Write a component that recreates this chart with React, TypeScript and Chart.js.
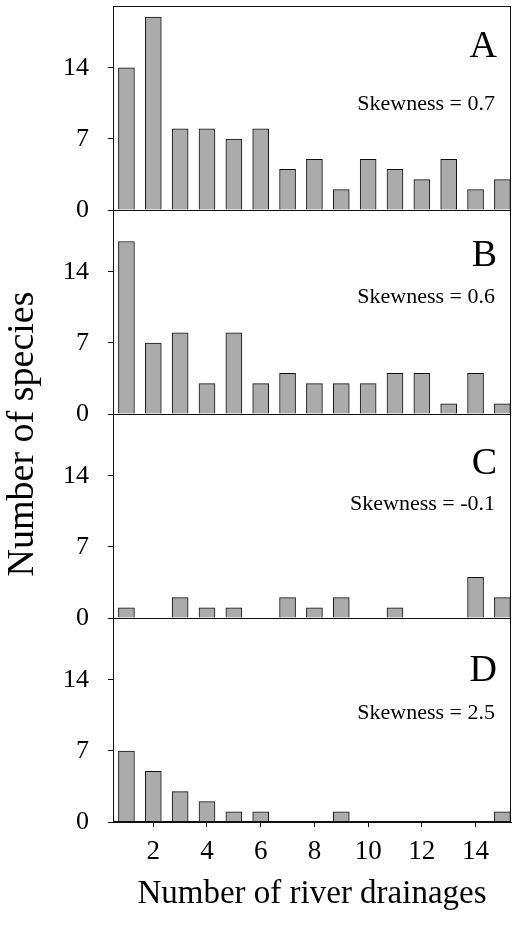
import React, { useEffect, useRef } from 'react';
import { Chart, registerables } from 'chart.js';

Chart.register(...registerables);

const drainages = [1, 2, 3, 4, 5, 6, 7, 8, 9, 10, 11, 12, 13, 14, 15];
const speciesA = [14, 19, 8, 8, 7, 8, 4, 5, 2, 5, 4, 3, 5, 2, 3];
const speciesB = [17, 7, 8, 3, 8, 3, 4, 3, 3, 3, 4, 4, 1, 4, 1];
const speciesC = [1, 0, 2, 1, 1, 0, 2, 1, 2, 0, 1, 0, 0, 4, 2];
const speciesD = [7, 5, 3, 2, 1, 1, 0, 0, 1, 0, 0, 0, 0, 0, 1];
const panelLetters = ['A', 'B', 'C', 'D'];
const skewnessValues = ['0.7', '0.6', '-0.1', '2.5'];
const yTickValues = [0, 7, 14];
const xTickValues = [2, 4, 6, 8, 10, 12, 14];
const yTitle = 'Number of species';
const xTitle = 'Number of river drainages';

// layout: baseline offsets (px) of the in-panel labels below each panel's top
const letterBaselineOffsets = [51, 56, 60, 63];
const skewBaselineOffsets = [104, 93, 96, 101];

const FONT = "'Liberation Serif', 'Times New Roman', serif";
const INK = '#111111';
const BAR_FILL = '#ababab';

const panelIds = ['yA', 'yB', 'yC', 'yD'];
const panelSeries = [speciesA, speciesB, speciesC, speciesD];

const panelPlugin = {
  id: 'panelFrames',
  afterDatasetsDraw(chart: any) {
    const { ctx, chartArea } = chart;
    ctx.save();
    ctx.strokeStyle = INK;
    ctx.lineWidth = 1;
    ctx.strokeRect(
      Math.round(chartArea.left) + 0.5,
      Math.round(chartArea.top) + 0.5,
      Math.round(chartArea.width) - 1,
      Math.round(chartArea.height) - 1
    );
    panelIds.forEach((id, i) => {
      const s = chart.scales[id];
      const y0 = Math.round(s.getPixelForValue(0)) + 0.5;
      ctx.beginPath();
      ctx.moveTo(chartArea.left, y0);
      ctx.lineTo(chartArea.right, y0);
      ctx.stroke();
      ctx.fillStyle = '#000';
      ctx.textAlign = 'right';
      ctx.textBaseline = 'alphabetic';
      ctx.font = `38px ${FONT}`;
      ctx.fillText(panelLetters[i], chartArea.right - 14, s.top + letterBaselineOffsets[i]);
      ctx.font = `22px ${FONT}`;
      ctx.fillText(`Skewness = ${skewnessValues[i]}`, chartArea.right - 16, s.top + skewBaselineOffsets[i]);
    });
    // shared y-axis title
    ctx.save();
    ctx.translate(23, 434);
    ctx.rotate(-Math.PI / 2);
    ctx.textAlign = 'center';
    ctx.textBaseline = 'middle';
    ctx.fillStyle = '#000';
    ctx.font = `38px ${FONT}`;
    ctx.fillText(yTitle, 0, 0);
    ctx.restore();
    ctx.restore();
  },
};

export default function App() {
  const canvasRef = useRef<HTMLCanvasElement | null>(null);

  useEffect(() => {
    if (!canvasRef.current) return;

    const datasets = panelSeries.map((series, i) => ({
      type: 'bar' as const,
      label: panelLetters[i],
      data: drainages.map((x, j) => ({ x, y: series[j] })),
      yAxisID: panelIds[i],
      xAxisID: 'x',
      backgroundColor: BAR_FILL,
      borderColor: INK,
      borderWidth: 1,
      borderSkipped: 'start' as const,
      barThickness: 16,
      grouped: false,
    }));

    // stacked left axes are laid out with the last-defined on top
    const yScales: any = {};
    [...panelIds].reverse().forEach((id) => {
      yScales[id] = {
        type: 'linear',
        position: 'left',
        stack: 'panels',
        stackWeight: 1,
        min: 0,
        max: 20.1,
        afterBuildTicks: (s: any) => {
          s.ticks = yTickValues.map((v) => ({ value: v }));
        },
        afterFit: (s: any) => {
          s.width = 67;
          s.paddingTop = 0;
          s.paddingBottom = 0;
        },
        grid: { drawOnChartArea: false, tickLength: 5, color: INK },
        border: { display: true, color: INK, width: 1 },
        ticks: { font: { family: FONT, size: 26 }, color: '#000', padding: 19 },
      };
    });

    const chart = new Chart(canvasRef.current, {
      type: 'bar',
      data: { datasets },
      options: {
        animation: false,
        responsive: false,
        layout: { padding: { top: 6, right: 6, left: 46, bottom: 0 } },
        plugins: {
          legend: { display: false },
          tooltip: { enabled: false },
          title: { display: false },
        },
        scales: {
          x: {
            type: 'linear',
            position: 'bottom',
            offset: false,
            min: 0.5,
            max: 15.32,
            afterBuildTicks: (s: any) => {
              s.ticks = xTickValues.map((v) => ({ value: v }));
            },
            afterFit: (s: any) => {
              s.height = 112;
              s.paddingLeft = 0;
              s.paddingRight = 0;
            },
            grid: { drawOnChartArea: false, tickLength: 5, color: INK, offset: false },
            border: { display: true, color: INK, width: 1 },
            ticks: { font: { family: FONT, size: 27 }, color: '#000', padding: 9, maxRotation: 0 },
            title: {
              display: true,
              text: xTitle,
              color: '#000',
              font: { family: FONT, size: 33 },
              padding: { top: 0, bottom: 20 },
            },
          },
          ...yScales,
        },
      },
      plugins: [panelPlugin],
    });

    return () => chart.destroy();
  }, []);

  return (
    <div style={{ position: 'absolute', left: 0, top: 0, width: 517, height: 934, background: '#fff' }}>
      <canvas ref={canvasRef} width={517} height={934} style={{ display: 'block' }} />
    </div>
  );
}
